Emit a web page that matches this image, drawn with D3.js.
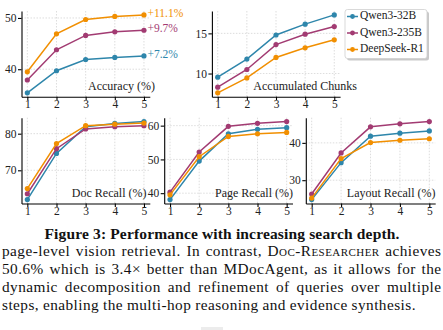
<!DOCTYPE html>
<html>
<head>
<meta charset="utf-8">
<script src="https://cdn.jsdelivr.net/npm/d3@7"></script>
<style>
  html, body { margin: 0; padding: 0; background: #fff; }
  svg { display: block; }
  svg text { font-family: "Liberation Serif", "Times New Roman", serif; }
  .grid line { stroke: #d4d4d4; stroke-dasharray: 1.5,1.5; stroke-width: 0.8; }
  .axis path, .axis line { stroke: #000; stroke-width: 1.1; }
  .axis text { font-size: 11.5px; fill: #222; }
</style>
</head>
<body>
<svg id="fig" width="443" height="330"></svg>
<script>
// search depth on the x axis, one series per model
const depth  = [1, 2, 3, 4, 5];
const models = ["Qwen3-32B", "Qwen3-235B", "DeepSeek-R1"];
const colors = ["#2E86AB", "#A23B72", "#F18F01"];

// rows follow the order of `models`
const accuracy = [
  [35.4, 39.7, 41.9, 42.3, 42.6],
  [37.9, 43.8, 46.6, 47.3, 47.6],
  [39.5, 46.9, 49.7, 50.3, 50.6]
];
const chunks = [
  [9.55, 11.8, 14.8, 16.15, 17.3],
  [8.3, 10.5, 13.6, 14.9, 15.85],
  [7.6, 9.45, 12.0, 13.2, 14.2]
];
const docRecall = [
  [62.0, 74.6, 81.9, 82.8, 83.3],
  [63.6, 75.9, 81.3, 81.9, 82.2],
  [65.0, 77.3, 82.2, 82.6, 82.9]
];
const pageRecall = [
  [38.1, 49.5, 57.6, 58.9, 59.4],
  [40.3, 52.2, 59.8, 60.7, 61.2],
  [39.5, 50.8, 56.8, 57.6, 58.0]
];
const layoutRecall = [
  [24.8, 34.7, 41.8, 42.6, 43.2],
  [26.3, 37.3, 44.3, 45.1, 45.7],
  [25.2, 35.8, 40.1, 40.7, 41.1]
];

const captionTitle = "Figure 3: Performance with increasing search depth.";
const bodyLines = [
  [["page-level vision retrieval. In contrast, "], ["Doc-Researcher", "sc"], [" achieves"]],
  [["50.6% which is 3.4× better than MDocAgent, as it allows for the"]],
  [["dynamic decomposition and refinement of queries over multiple"]],
  [["steps, enabling the multi-hop reasoning and evidence synthesis."]]
];

const svg = d3.select("#fig");

const panels = [
  { data: accuracy,     title: "Accuracy (%)",       ticks: [40, 50],     x: [21.5, 149.8], y: [11, 96.7],   tx: 155,   gains: true },
  { data: chunks,       title: "Accumulated Chunks", ticks: [10, 15],     x: [211.9, 340.1], y: [11, 96.7],  tx: 357,   legend: true },
  { data: docRecall,    title: "Doc Recall (%)",     ticks: [70, 80],     x: [21.5, 149.8], y: [117.7, 203.5], tx: 146.5 },
  { data: pageRecall,   title: "Page Recall (%)",    ticks: [40, 50, 60], x: [164.2, 292.5], y: [117.7, 203.5], tx: 293 },
  { data: layoutRecall, title: "Layout Recall (%)",  ticks: [30, 40],     x: [305.8, 435.2], y: [117.7, 203.5], tx: 435.5 }
];

panels.forEach(p => {
  const all = p.data.flat();
  const [lo, hi] = d3.extent(all);
  const pad = (hi - lo) * 0.05;

  const x = d3.scaleLinear().domain([0.8, 5.2]).range(p.x);
  const y = d3.scaleLinear().domain([lo - pad, hi + pad]).range([p.y[1], p.y[0]]);
  const g = svg.append("g");

  // dotted grid
  const grid = g.append("g").attr("class", "grid");
  grid.selectAll(".gx").data(depth).join("line")
    .attr("x1", d => x(d)).attr("x2", d => x(d))
    .attr("y1", p.y[0]).attr("y2", p.y[1]);
  grid.selectAll(".gy").data(p.ticks).join("line")
    .attr("x1", p.x[0]).attr("x2", p.x[1])
    .attr("y1", d => y(d)).attr("y2", d => y(d));

  // only left and bottom spines
  g.append("g").attr("class", "axis")
    .attr("transform", `translate(0,${p.y[1]})`)
    .call(d3.axisBottom(x).tickValues(depth).tickFormat(d3.format("d"))
      .tickSize(3.5).tickPadding(0).tickSizeOuter(0))
    .attr("font-family", null);
  g.append("g").attr("class", "axis")
    .attr("transform", `translate(${p.x[0]},0)`)
    .call(d3.axisLeft(y).tickValues(p.ticks).tickFormat(d3.format("d"))
      .tickSize(3.5).tickPadding(1.5).tickSizeOuter(0))
    .attr("font-family", null);

  const line = d3.line().x((d, i) => x(depth[i])).y(d => y(d));

  p.data.forEach((vals, k) => {
    g.append("path")
      .attr("d", line(vals))
      .attr("fill", "none")
      .attr("stroke", colors[k])
      .attr("stroke-width", 1.5);
    g.selectAll(null).data(vals).join("circle")
      .attr("cx", (d, i) => x(depth[i]))
      .attr("cy", d => y(d))
      .attr("r", 2.6)
      .attr("fill", colors[k]);
  });

  g.append("text")
    .attr("x", p.tx)
    .attr("y", p.y[1] - 7)
    .attr("text-anchor", "end")
    .attr("font-size", 12)
    .attr("fill", "#222")
    .text(p.title);

  if (p.gains) {
    // improvement from depth 1 to depth 5
    p.data.forEach((vals, k) => {
      const gain = vals[vals.length - 1] - vals[0];
      g.append("text")
        .attr("x", x(5) + 3.5)
        .attr("y", y(vals[vals.length - 1]) - 1)
        .attr("dominant-baseline", "middle")
        .attr("font-size", 11.5)
        .attr("fill", colors[k])
        .text("+" + gain.toFixed(1) + "%");
    });
  }

  if (p.legend) {
    const lg = svg.append("g").attr("transform", "translate(345,9.5)");
    lg.append("rect").attr("x", 2).attr("y", 2).attr("width", 82).attr("height", 49)
      .attr("rx", 2.5).attr("fill", "#888").attr("opacity", 0.45);
    lg.append("rect").attr("width", 82).attr("height", 49)
      .attr("rx", 2.5).attr("fill", "#fff").attr("stroke", "#cfcfcf").attr("stroke-width", 0.8);
    models.forEach((m, k) => {
      const ly = 7 + k * 16.5;
      lg.append("line").attr("x1", 2).attr("x2", 13).attr("y1", ly).attr("y2", ly)
        .attr("stroke", colors[k]).attr("stroke-width", 1.5);
      lg.append("circle").attr("cx", 7.5).attr("cy", ly).attr("r", 2.4).attr("fill", colors[k]);
      lg.append("text").attr("x", 15).attr("y", ly).attr("dominant-baseline", "middle")
        .attr("font-size", 11.5).attr("fill", "#222").text(m);
    });
  }
});

// caption and body text
svg.append("text")
  .attr("x", 222).attr("y", 238.5)
  .attr("text-anchor", "middle")
  .attr("font-size", 15.5)
  .attr("letter-spacing", 0.15)
  .attr("font-weight", "bold")
  .attr("fill", "#111")
  .text(captionTitle);

const left = 2, right = 441.5, bodySize = 15.3, tracking = 0.45;
bodyLines.forEach((segs, li) => {
  const baseY = 256 + li * 18;
  const last = li === bodyLines.length - 1;
  // split into words, keep the small-caps run as a single word
  const words = [];
  segs.forEach(([txt, style]) => {
    if (style === "sc") { words.push({ t: txt, sc: true }); return; }
    txt.split(" ").forEach(w => { if (w !== "") words.push({ t: w, sc: false }); });
  });
  const nodes = words.map(w => svg.append("text")
    .attr("y", baseY)
    .attr("font-size", bodySize)
    .attr("letter-spacing", tracking)
    .attr("fill", "#111")
    .style("font-variant", w.sc ? "small-caps" : null)
    .text(w.t));
  const widths = nodes.map(n => n.node().getComputedTextLength());
  const total = d3.sum(widths);
  const gap = last ? bodySize * 0.25 : (right - left - total) / (words.length - 1);
  let cx = left;
  nodes.forEach((n, i) => { n.attr("x", cx); cx += widths[i] + gap; });
});

// faint mark at the page foot
svg.append("rect").attr("x", 201).attr("y", 327).attr("width", 22).attr("height", 3).attr("fill", "#ececec");
</script>
</body>
</html>
